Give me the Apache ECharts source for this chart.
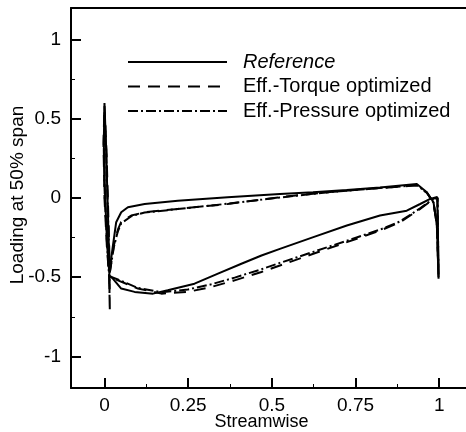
<!DOCTYPE html>
<html>
<head>
<meta charset="utf-8">
<script src="https://cdn.jsdelivr.net/npm/echarts@6/dist/echarts.min.js"></script>
<style>
html,body{margin:0;padding:0;background:#fff;}
#chart{width:466px;height:432px;}
</style>
</head>
<body>
<div id="chart"></div>
<script>
// ---- data ----
const seriesNames = ['Reference', 'Eff.-Torque optimized', 'Eff.-Pressure optimized'];
const xTicks = [0, 0.25, 0.5, 0.75, 1];
const xMinorTicks = [0.125, 0.375, 0.625, 0.875];
const yTicks = [-1, -0.5, 0, 0.5, 1];
const yMinorTicks = [-0.75, -0.25, 0.25, 0.75];

const referenceCurve = [
  [0.015,-0.465],[0.024,-0.32],[0.035,-0.153],[0.05,-0.09],[0.07,-0.058],[0.12,-0.038],
  [0.219,-0.017],[0.368,0.004],[0.524,0.025],[0.623,0.036],[0.724,0.05],[0.823,0.066],
  [0.933,0.088],[0.963,0.036],[0.983,-0.027],[0.993,-0.174],[0.998,-0.51],[0.996,-0.2],[0.994,0.006],
  [0.973,-0.006],[0.943,-0.038],[0.903,-0.08],[0.823,-0.111],[0.724,-0.174],[0.624,-0.247],
  [0.524,-0.321],[0.469,-0.363],[0.409,-0.415],[0.339,-0.478],[0.269,-0.541],[0.189,-0.583],
  [0.145,-0.604],[0.09,-0.593],[0.05,-0.572],[0.025,-0.509],[0.015,-0.489],
  [0.008,-0.3],[0.002,0.0],[-0.002,0.35],[0.0,0.6],[0.005,0.3],[0.009,0.0],[0.013,-0.3],[0.015,-0.465]
];

const torqueCurve = [
  [0.016,-0.47],[0.028,-0.3],[0.04,-0.2],[0.05,-0.151],[0.08,-0.111],[0.12,-0.09],
  [0.219,-0.069],[0.368,-0.038],[0.524,0.005],[0.674,0.038],[0.823,0.062],[0.933,0.08],
  [0.963,0.033],[0.983,-0.03],[0.993,-0.17],[0.998,-0.5],[0.996,-0.2],[0.995,0.0],
  [0.983,-0.006],[0.943,-0.069],[0.883,-0.153],[0.823,-0.206],[0.724,-0.279],[0.624,-0.352],
  [0.524,-0.426],[0.469,-0.467],[0.389,-0.52],[0.319,-0.562],[0.249,-0.593],[0.17,-0.604],
  [0.1,-0.572],[0.04,-0.52],[0.015,-0.497],
  [0.016,-0.72],[0.014,-0.5],[0.007,-0.3],[0.0,0.0],[-0.003,0.35],[0.0,0.58],[0.006,0.3],
  [0.01,0.0],[0.014,-0.3],[0.016,-0.47]
];

const pressureCurve = [
  [0.016,-0.47],[0.028,-0.31],[0.04,-0.21],[0.05,-0.16],[0.08,-0.115],[0.12,-0.092],
  [0.219,-0.07],[0.368,-0.036],[0.524,0.003],[0.674,0.038],[0.823,0.063],[0.933,0.081],
  [0.963,0.034],[0.983,-0.03],[0.993,-0.17],[0.998,-0.49],[0.996,-0.2],[0.995,0.0],
  [0.983,-0.004],[0.943,-0.065],[0.883,-0.148],[0.823,-0.2],[0.724,-0.27],[0.624,-0.34],
  [0.524,-0.41],[0.469,-0.45],[0.389,-0.503],[0.319,-0.545],[0.249,-0.578],[0.17,-0.595],
  [0.1,-0.568],[0.04,-0.515],[0.015,-0.495],
  [0.015,-0.6],[0.014,-0.5],[0.008,-0.3],[0.001,0.0],[-0.002,0.3],[0.0,0.55],[0.005,0.3],
  [0.009,0.0],[0.013,-0.3],[0.016,-0.47]
];

// ---- chart ----
const FONT = 'Liberation Sans, Arial, sans-serif';
const chart = echarts.init(document.getElementById('chart'), null, {renderer: 'canvas'});
const X_MIN = -0.1, X_MAX = 1.08, Y_MIN = -1.2, Y_MAX = 1.2;

const option = {
  animation: false,
  backgroundColor: '#fff',
  grid: {left: 71, top: 8, right: 0, bottom: 44, containLabel: false, outerBoundsMode: 'none'},
  legend: {
    left: 122, top: 47, orient: 'vertical',
    itemWidth: 99, itemHeight: 14, itemGap: 4.5,
    data: [
      {name: seriesNames[0], textStyle: {fontStyle: 'italic'}},
      {name: seriesNames[1]},
      {name: seriesNames[2]}
    ],
    itemStyle: {color: 'rgba(0,0,0,0)', borderWidth: 0, opacity: 0},
    textStyle: {fontFamily: FONT, fontSize: 20, color: '#000', lineHeight: 19, padding: [0,0,0,11]}
  },
  xAxis: [
    {
      type: 'value', min: X_MIN, max: X_MAX, position: 'bottom',
      name: 'Streamwise', nameLocation: 'middle', nameGap: 25, nameMoveOverlap: false,
      nameTextStyle: {fontFamily: FONT, fontSize: 18, color: '#000', padding: [0, 14, 0, 0]},
      axisLine: {show: true, onZero: false, lineStyle: {color: '#000', width: 2}},
      axisTick: {show: true, inside: true, length: 10, customValues: xTicks, lineStyle: {color: '#000', width: 2}},
      axisLabel: {show: true, customValues: xTicks, margin: 8, fontFamily: FONT, fontSize: 19, color: '#000'},
      splitLine: {show: false}
    },
    {
      type: 'value', min: X_MIN, max: X_MAX, position: 'bottom',
      axisLine: {show: false, onZero: false},
      axisTick: {show: true, inside: true, length: 4, customValues: xMinorTicks, lineStyle: {color: '#000', width: 1}},
      axisLabel: {show: false},
      splitLine: {show: false}
    },
    {
      type: 'value', min: X_MIN, max: X_MAX, position: 'top',
      axisLine: {show: true, onZero: false, lineStyle: {color: '#000', width: 2}},
      axisTick: {show: false}, axisLabel: {show: false}, splitLine: {show: false}
    }
  ],
  yAxis: [
    {
      type: 'value', min: Y_MIN, max: Y_MAX, position: 'left',
      name: 'Loading at 50% span', nameLocation: 'middle', nameGap: 44, nameMoveOverlap: false,
      nameTextStyle: {fontFamily: FONT, fontSize: 19, color: '#000', padding: [0, 0, 0, 6]},
      axisLine: {show: true, onZero: false, lineStyle: {color: '#000', width: 2}},
      axisTick: {show: true, inside: true, length: 10, customValues: yTicks, lineStyle: {color: '#000', width: 2}},
      axisLabel: {show: true, customValues: yTicks, margin: 10, fontFamily: FONT, fontSize: 19, color: '#000'},
      splitLine: {show: false}
    },
    {
      type: 'value', min: Y_MIN, max: Y_MAX, position: 'left',
      axisLine: {show: false, onZero: false},
      axisTick: {show: true, inside: true, length: 4, customValues: yMinorTicks, lineStyle: {color: '#000', width: 1}},
      axisLabel: {show: false},
      splitLine: {show: false}
    }
  ],
  series: [
    {
      name: seriesNames[2], type: 'line', data: pressureCurve, symbol: 'none',
      xAxisIndex: 0, yAxisIndex: 0,
      lineStyle: {color: '#000', width: 2, type: [10, 3, 2, 3]}, itemStyle: {color: '#000'}
    },
    {
      name: seriesNames[1], type: 'line', data: torqueCurve, symbol: 'none',
      xAxisIndex: 0, yAxisIndex: 0,
      lineStyle: {color: '#000', width: 2, type: [12, 8]}, itemStyle: {color: '#000'}
    },
    {
      name: seriesNames[0], type: 'line', data: referenceCurve, symbol: 'none',
      xAxisIndex: 0, yAxisIndex: 0,
      lineStyle: {color: '#000', width: 2, type: 'solid'}, itemStyle: {color: '#000'}
    }
  ]
};
chart.setOption(option);
</script>
</body>
</html>
